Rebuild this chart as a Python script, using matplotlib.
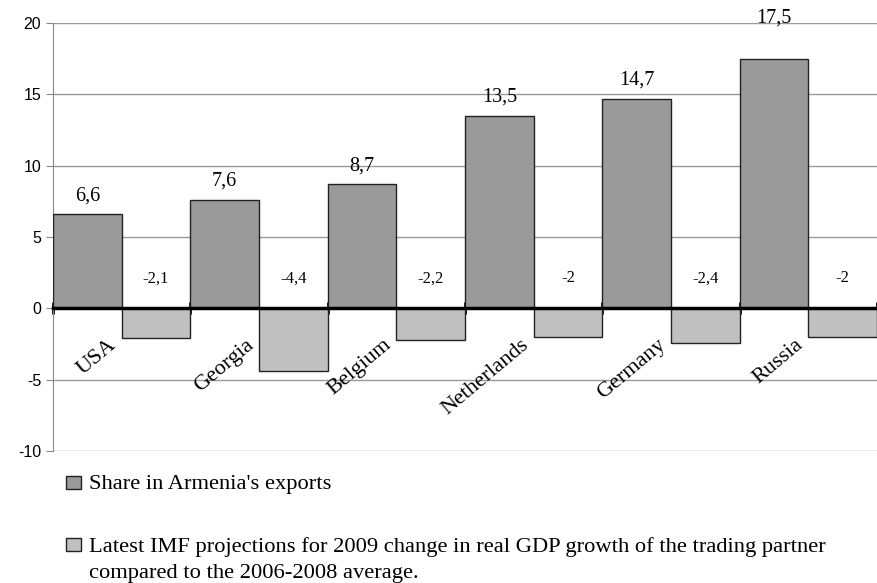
import matplotlib.pyplot as plt
from matplotlib.patches import Rectangle
import numpy as np

countries = ["USA", "Georgia", "Belgium", "Netherlands", "Germany", "Russia"]
export_share = [6.6, 7.6, 8.7, 13.5, 14.7, 17.5]
gdp_change = [-2.1, -4.4, -2.2, -2, -2.4, -2]
yticks = [-10, -5, 0, 5, 10, 15, 20]

legend_labels = [
    "Share in Armenia's exports",
    "Latest IMF projections for 2009 change in real GDP growth of the trading partner\ncompared to the 2006-2008 average.",
]

# gap (points) between bar top and its value label, as placed in the original
label_gap = [10, 10, 10, 10, 10, 26]

dark = "#9a9a9a"
light = "#c0c0c0"
serif = "Liberation Serif"


def fmt(v):
    return f"{v:g}".replace(".", ",")


fig = plt.figure(figsize=(8.77, 5.83), dpi=100)
ax = fig.add_axes([53 / 877, 1 - 451 / 583, 1 - 53 / 877, (451 - 23) / 583])

x = np.arange(len(countries))
ax.bar(x - 0.25, export_share, width=0.5, color=dark, edgecolor="#222222", linewidth=1, zorder=3)
ax.bar(x + 0.25, gdp_change, width=0.5, color=light, edgecolor="#222222", linewidth=1, zorder=3)

ax.set_xlim(-0.5, len(countries) - 0.5)
ax.set_ylim(-10, 20)
ax.set_yticks(yticks)
ax.set_yticklabels([str(t) for t in yticks], fontfamily="Liberation Sans", fontsize=11.5)
ax.yaxis.grid(True, color="#999999", linewidth=1)
ax.set_axisbelow(True)

# x axis drawn along zero, ticks at category boundaries
ax.spines["bottom"].set_position(("data", 0))
ax.spines["bottom"].set_linewidth(2.5)
ax.spines["bottom"].set_zorder(4)
ax.set_xticks(np.arange(len(countries) + 1) - 0.5)
ax.set_xticklabels([])
ax.tick_params(axis="x", direction="inout", length=8, width=2)
ax.tick_params(axis="y", length=5, color="#888888")
ax.spines["left"].set_color("#888888")
ax.spines["top"].set_visible(False)
ax.spines["right"].set_visible(False)

for i, v in enumerate(export_share):
    ax.annotate(fmt(v), (i - 0.25, v), xytext=(0, label_gap[i]), textcoords="offset points",
                ha="center", va="baseline", fontfamily=serif, fontsize=14.5)
for i, v in enumerate(gdp_change):
    ax.text(i + 0.25, 2.1, fmt(v), ha="center", va="center", fontfamily=serif, fontsize=12)

for i, name in enumerate(countries):
    ax.text(i - 0.1, -1.9, name, rotation=40, rotation_mode="anchor",
            ha="right", va="top", fontfamily=serif, fontsize=16)

# legend below the plot: square + text lines (baselines in pixels from top)
entries = [(476, [489], legend_labels[0], dark), (538, [552, 578], legend_labels[1], light)]
for sq_top, baselines, txt, col in entries:
    fig.patches.append(Rectangle((66 / 877, 1 - (sq_top + 13) / 583), 15 / 877, 13 / 583,
                                 transform=fig.transFigure, facecolor=col,
                                 edgecolor="#222222", linewidth=1))
    for line, yb in zip(txt.split("\n"), baselines):
        fig.text(89 / 877, 1 - yb / 583, line, ha="left", va="baseline",
                 fontfamily=serif, fontsize=16.2)

plt.savefig("out.png", dpi=100)
